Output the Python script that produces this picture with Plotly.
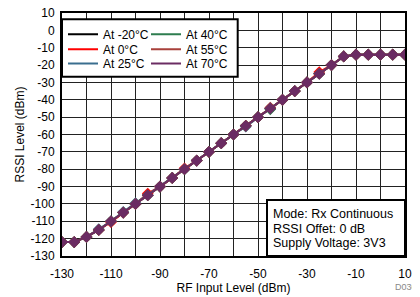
import plotly.graph_objects as go

rf_input = [-130, -125, -120, -115, -110, -105, -100, -95, -90, -85, -80, -75, -70, -65,
            -60, -55, -50, -45, -40, -35, -30, -25, -20, -15, -10, -5, 0, 5, 10]

rssi_m20 = [-122, -122, -119, -115, -110, -105, -100, -95, -90, -85, -80, -75, -70, -65,
            -60, -55, -50, -45, -40, -35, -30, -25, -20, -15, -14, -14, -14, -14, -14]
rssi_0 = [-122, -122, -119, -115, -110.5, -105, -100, -94, -90, -85, -79.5, -75, -70, -65,
          -60, -55, -50, -45, -40, -35, -30, -24, -20, -15, -14, -14, -14, -14, -14]
rssi_25 = [-122, -122, -119, -114.5, -110, -104.5, -99.5, -95, -90, -85, -80, -75, -70, -65,
           -60, -55.5, -50, -45, -40, -35, -30, -25, -20, -15, -14, -14, -14, -14, -14]
rssi_40 = [-122, -122, -119, -115, -110, -105, -100, -95, -90, -85, -80, -75, -70, -65,
           -60, -55, -50, -45.5, -40, -35, -30, -25, -20, -15, -14, -14, -14, -14, -14]
rssi_55 = [-122, -122, -119, -115, -110, -105, -100, -95, -90, -85, -80, -75, -70, -65,
           -60, -55, -50, -44.5, -40, -35, -30, -25, -20, -15, -14, -14, -14, -14, -14]
rssi_70 = [-122, -122, -119, -115, -110, -105, -100, -95, -90, -85, -80, -75, -70, -65,
           -60, -55, -50, -45, -40, -35, -30, -25, -20, -15, -14, -14, -14, -14, -14]

series_names = ["At -20°C", "At 0°C", "At 25°C", "At 40°C", "At 55°C", "At 70°C"]
series_vals = [rssi_m20, rssi_0, rssi_25, rssi_40, rssi_55, rssi_70]
series_colors = ["#000000", "#FF0000", "#3A6E8F", "#2E7D4F", "#A8413B", "#6B2C63"]

x_ticks = [-130, -110, -90, -70, -50, -30, -10, 10]
y_ticks = list(range(-130, 11, 10))

FONT = "Arial, Liberation Sans, sans-serif"

# the page body adds an 8px margin, so the figure is laid out 8px smaller/shifted
OFF = 8
W, H = 420 - OFF, 297 - OFF
# plot area in (reference) pixels
L, R, T, B = 62 - OFF, 405 - OFF, 13 - OFF, 256 - OFF
PW, PH = R - L, B - T


def px_x(px):
    return (px - OFF - L) / PW


def px_y(py):
    return 1 - (py - OFF - T) / PH


fig = go.Figure()
for name, vals, col in zip(series_names, series_vals, series_colors):
    fig.add_trace(go.Scatter(
        x=rf_input, y=vals, mode="lines+markers", showlegend=False,
        line=dict(color=col, width=2),
        marker=dict(symbol="diamond", size=9, color=col),
        hoverinfo="skip"))

# legend: one single-entry legend per slot (2 columns x 3 rows)
legend_slots = [(0, 0), (0, 1), (0, 2), (1, 0), (1, 1), (1, 2)]
col_px = [63, 146]
row_px = [34.3, 49.3, 63.5]
legend_layouts = {}
for i, (name, col, (c, r)) in enumerate(zip(series_names, series_colors, legend_slots)):
    lid = "legend" if i == 0 else f"legend{i + 1}"
    fig.add_trace(go.Scatter(
        x=[None], y=[None], mode="lines", name=name, legend=lid,
        line=dict(color=col, width=2)))
    legend_layouts[lid] = dict(
        x=px_x(col_px[c]), y=px_y(row_px[r]), xanchor="left", yanchor="middle",
        bgcolor="rgba(0,0,0,0)", borderwidth=0, itemwidth=30,
        font=dict(family=FONT, size=12, color="black"))

axis_common = dict(
    showline=True, linecolor="black", linewidth=2, mirror=True,
    showgrid=True, gridcolor="#222222", gridwidth=1, automargin=False,
    zeroline=False, ticks="", ticklabeloverflow="allow",
    tickfont=dict(family=FONT, size=12, color="black"),
)

fig.update_xaxes(range=[-130, 10], tickvals=x_ticks, ticktext=[str(v) for v in x_ticks],
                 ticklabelstandoff=6,
                 minor=dict(tickvals=list(range(-130, 11, 10)), showgrid=True,
                            gridcolor="#222222", gridwidth=1),
                 title=dict(text="RF Input Level (dBm)", font=dict(family=FONT, size=12, color="black"),
                            standoff=1),
                 **axis_common)
fig.update_yaxes(range=[-130, 10], tickvals=y_ticks, ticktext=[str(v) for v in y_ticks],
                 ticklabelstandoff=3,
                 title=dict(text="RSSI Level (dBm)", font=dict(family=FONT, size=12, color="black"),
                            standoff=3),
                 **axis_common)

ann_font = dict(family=FONT, size=12.5, color="black")
fig.update_layout(
    width=W, height=H,
    margin=dict(l=L, r=W - R, t=T, b=H - B),
    paper_bgcolor="white", plot_bgcolor="white",
    shapes=[
        dict(type="rect", xref="paper", yref="paper", x0=0, x1=px_x(237.7),
             y0=px_y(76.7), y1=px_y(19.3),
             fillcolor="white", line=dict(color="black", width=2), layer="above"),
        dict(type="rect", xref="paper", yref="paper", x0=px_x(267), x1=1, y0=0, y1=px_y(200),
             fillcolor="white", line=dict(color="black", width=2), layer="above"),
    ],
    annotations=[
        dict(text="Mode: Rx Continuous", xref="paper", yref="paper", x=px_x(271), y=px_y(214),
             xanchor="left", yanchor="middle", showarrow=False, font=ann_font),
        dict(text="RSSI Offet: 0 dB", xref="paper", yref="paper", x=px_x(271), y=px_y(228.5),
             xanchor="left", yanchor="middle", showarrow=False, font=ann_font),
        dict(text="Supply Voltage: 3V3", xref="paper", yref="paper", x=px_x(271), y=px_y(243),
             xanchor="left", yanchor="middle", showarrow=False, font=ann_font),
        dict(text="D030", xref="paper", yref="paper", x=px_x(419), y=px_y(287),
             xanchor="right", yanchor="middle", showarrow=False,
             font=dict(family=FONT, size=9, color="#888888")),
    ],
    **legend_layouts,
)

fig.write_html("out.html")
